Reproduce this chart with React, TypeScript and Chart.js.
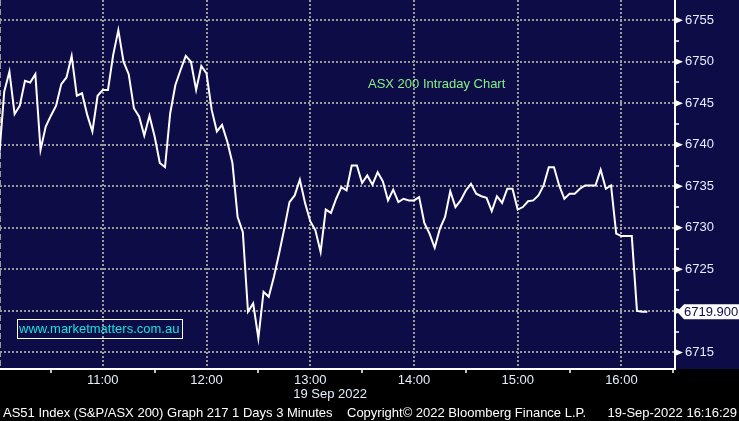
import React, { useEffect, useRef } from 'react';
import { Chart, registerables } from 'chart.js';

Chart.register(...registerables);

// ASX 200 (AS51) intraday, 19 Sep 2022, 3-minute bars starting 10:00
const START_MINUTE = 0; // minutes after 10:00
const STEP_MINUTES = 3;
const prices: number[] = [
  6738.4, 6746.4, 6748.8, 6743.7, 6744.7, 6747.7, 6747.5, 6748.5, 6739.4, 6742.2,
  6743.5, 6744.7, 6747.3, 6748.1, 6750.7, 6745.9, 6746.2, 6743.6, 6741.6, 6745.9,
  6746.6, 6746.6, 6750.8, 6753.8, 6750.0, 6748.5, 6744.4, 6743.4, 6741.1, 6743.5,
  6741.0, 6737.8, 6737.3, 6743.8, 6747.2, 6749.0, 6750.7, 6750.0, 6746.6, 6749.5,
  6748.6, 6744.2, 6741.6, 6742.4, 6740.4, 6737.8, 6731.3, 6729.5, 6719.9, 6720.9,
  6716.7, 6722.3, 6721.7, 6724.1, 6726.9, 6729.9, 6733.1, 6733.9, 6735.8, 6733.0,
  6730.8, 6729.7, 6727.1, 6732.2, 6731.8, 6733.5, 6734.9, 6734.5, 6737.5, 6737.5,
  6735.4, 6736.3, 6735.2, 6736.7, 6735.6, 6733.3, 6734.6, 6733.1, 6733.5, 6733.3,
  6733.3, 6733.7, 6730.6, 6729.3, 6727.6, 6729.9, 6731.3, 6734.4, 6732.5, 6733.3,
  6734.5, 6735.3, 6734.1, 6733.8, 6733.6, 6732.0, 6733.8, 6733.0, 6734.7, 6734.7,
  6732.2, 6732.5, 6733.2, 6733.3, 6733.9, 6735.1, 6737.3, 6737.3, 6735.1, 6733.5,
  6734.1, 6734.1, 6734.7, 6735.1, 6735.1, 6735.1, 6737.0, 6734.7, 6735.1, 6729.3,
  6729.0, 6729.0, 6729.0, 6720.0, 6719.9, 6719.9,
];
const lastPrice = 6719.9;

const yMajorTicks: number[] = [6715, 6720, 6725, 6730, 6735, 6740, 6745, 6750, 6755];
const yMinorTicks: number[] = [6717.5, 6722.5, 6727.5, 6732.5, 6737.5, 6742.5, 6747.5, 6752.5];
const xHourTicks: number[] = [60, 120, 180, 240, 300, 360];
const xHourLabels: string[] = ['11:00', '12:00', '13:00', '14:00', '15:00', '16:00'];
const xHalfTicks: number[] = [30, 90, 150, 210, 270, 330, 390];

const dateLabel = '19 Sep 2022';
const footerLeft = 'AS51 Index (S&P/ASX 200) Graph 217 1 Days 3 Minutes';
const footerMid = 'Copyright\u00A9 2022 Bloomberg Finance L.P.';
const footerRight = '19-Sep-2022 16:16:29';
const chartTitle = 'ASX 200 Intraday Chart';
const siteLabel = 'www.marketmatters.com.au';

const NAVY = '#0e0c47';
const GRID = '#9a9a9a';
const AXIS_TEXT = '#e4eeff';
const FONT = "'Liberation Sans', Arial, sans-serif";
const TRANSPARENT = 'rgba(0,0,0,0)';

const chromePlugin = {
  id: 'bbgChrome',
  beforeDraw(chart: any) {
    const { ctx, width, height, chartArea } = chart;
    ctx.save();
    ctx.fillStyle = '#000000';
    ctx.fillRect(0, 0, width, height);
    ctx.fillStyle = NAVY;
    ctx.fillRect(0, 0, width, chartArea.bottom);
    ctx.restore();
  },
  beforeDatasetsDraw(chart: any) {
    const { ctx, chartArea } = chart;
    ctx.save();
    ctx.strokeStyle = GRID;
    ctx.lineWidth = 2;
    ctx.setLineDash([6, 3]);
    ctx.beginPath();
    ctx.moveTo(chartArea.left, chartArea.top);
    ctx.lineTo(chartArea.left, chartArea.bottom);
    ctx.stroke();
    ctx.restore();
  },
  afterDraw(chart: any) {
    const { ctx, chartArea, width } = chart;
    const y = chart.scales.y;
    const x = chart.scales.x;
    ctx.save();
    // triangles at major y ticks
    ctx.fillStyle = '#ffffff';
    for (const v of yMajorTicks) {
      const py = y.getPixelForValue(v);
      ctx.beginPath();
      ctx.moveTo(chartArea.right + 1, py - 3);
      ctx.lineTo(chartArea.right + 8, py);
      ctx.lineTo(chartArea.right + 1, py + 3);
      ctx.closePath();
      ctx.fill();
    }
    // last value label
    const ly = y.getPixelForValue(lastPrice);
    ctx.beginPath();
    ctx.moveTo(chartArea.right + 2, ly);
    ctx.lineTo(chartArea.right + 9, ly - 7.5);
    ctx.lineTo(width, ly - 7.5);
    ctx.lineTo(width, ly + 7.5);
    ctx.lineTo(chartArea.right + 9, ly + 7.5);
    ctx.closePath();
    ctx.fill();
    ctx.fillStyle = NAVY;
    ctx.font = `13px ${FONT}`;
    ctx.textBaseline = 'middle';
    ctx.textAlign = 'left';
    ctx.fillText(lastPrice.toFixed(3), chartArea.right + 9, ly + 0.5);

    // title annotation
    ctx.fillStyle = '#86f286';
    ctx.fillText(chartTitle, 368, 84);

    // site box
    ctx.fillStyle = '#12e2e2';
    ctx.fillText(siteLabel, 19, 329.5);
    ctx.strokeStyle = '#ffffff';
    ctx.lineWidth = 1;
    ctx.strokeRect(17.5, 319.5, 165, 19);

    // date under 13:00
    ctx.fillStyle = AXIS_TEXT;
    ctx.fillText(dateLabel, x.getPixelForValue(180) - 17, 394.5);

    // footer
    ctx.fillStyle = '#ffffff';
    ctx.fillText(footerLeft, 3, 413);
    ctx.fillText(footerMid, 347, 413);
    ctx.textAlign = 'right';
    ctx.fillText(footerRight, 737, 413);
    ctx.restore();
  },
};

export default function App() {
  const ref = useRef<HTMLCanvasElement | null>(null);

  useEffect(() => {
    document.body.style.margin = '0';
    const canvas = ref.current;
    if (!canvas) return;
    const points = prices.map((v, i) => ({ x: START_MINUTE + i * STEP_MINUTES, y: v }));
    const isHour = (v: number) => xHourTicks.indexOf(v) >= 0;
    const isMajorY = (v: number) => yMajorTicks.indexOf(v) >= 0;

    const chart = new Chart(canvas, {
      type: 'line',
      data: {
        datasets: [
          {
            data: points,
            borderColor: '#ffffff',
            borderWidth: 2,
            pointRadius: 0,
            tension: 0,
            fill: false,
          },
        ],
      },
      options: {
        responsive: false,
        animation: false,
        devicePixelRatio: 1,
        layout: { padding: 0 },
        plugins: { legend: { display: false }, tooltip: { enabled: false } },
        scales: {
          x: {
            type: 'linear',
            position: 'bottom',
            min: 0.55,
            max: 391,
            afterBuildTicks: (s: any) => {
              s.ticks = [...xHalfTicks, ...xHourTicks].sort((a, b) => a - b).map((v) => ({ value: v }));
            },
            afterFit: (s: any) => {
              s.height = 52;
              s.paddingLeft = 0;
              s.paddingRight = 0;
            },
            grid: {
              color: (c: any) => (c.tick && isHour(c.tick.value) ? GRID : TRANSPARENT),
              lineWidth: 2,
              tickLength: 4,
              tickWidth: 1.5,
              tickColor: (c: any) => (c.tick && isHour(c.tick.value) ? TRANSPARENT : '#ffffff'),
            },
            border: { display: true, color: '#ffffff', width: 2, dash: [2, 2] },
            ticks: {
              color: AXIS_TEXT,
              font: { family: FONT, size: 13 },
              padding: 0,
              autoSkip: false,
              maxRotation: 0,
              callback: (v: any) => {
                const i = xHourTicks.indexOf(Number(v));
                return i >= 0 ? xHourLabels[i] : '';
              },
            },
          },
          y: {
            type: 'linear',
            position: 'right',
            min: 6713.0,
            max: 6757.43,
            afterBuildTicks: (s: any) => {
              s.ticks = [...yMajorTicks, ...yMinorTicks].sort((a, b) => a - b).map((v) => ({ value: v }));
            },
            afterFit: (s: any) => {
              s.width = 64;
              s.paddingTop = 0;
              s.paddingBottom = 0;
            },
            grid: {
              color: (c: any) => (c.tick && isMajorY(c.tick.value) ? GRID : TRANSPARENT),
              lineWidth: 2,
              tickLength: 4,
              tickWidth: 1.5,
              tickColor: (c: any) => (c.tick && isMajorY(c.tick.value) ? TRANSPARENT : '#ffffff'),
            },
            border: { display: true, color: '#ffffff', width: 2, dash: [2, 2] },
            ticks: {
              color: AXIS_TEXT,
              font: { family: FONT, size: 13 },
              padding: 6,
              autoSkip: false,
              callback: (v: any) => (isMajorY(Number(v)) ? String(v) : ''),
            },
          },
        },
      },
      plugins: [chromePlugin],
    } as any);

    return () => chart.destroy();
  }, []);

  return (
    <div style={{ position: 'absolute', left: 0, top: 0, width: 739, height: 421 }}>
      <canvas ref={ref} width={739} height={421} style={{ display: 'block', width: 739, height: 421 }} />
    </div>
  );
}
